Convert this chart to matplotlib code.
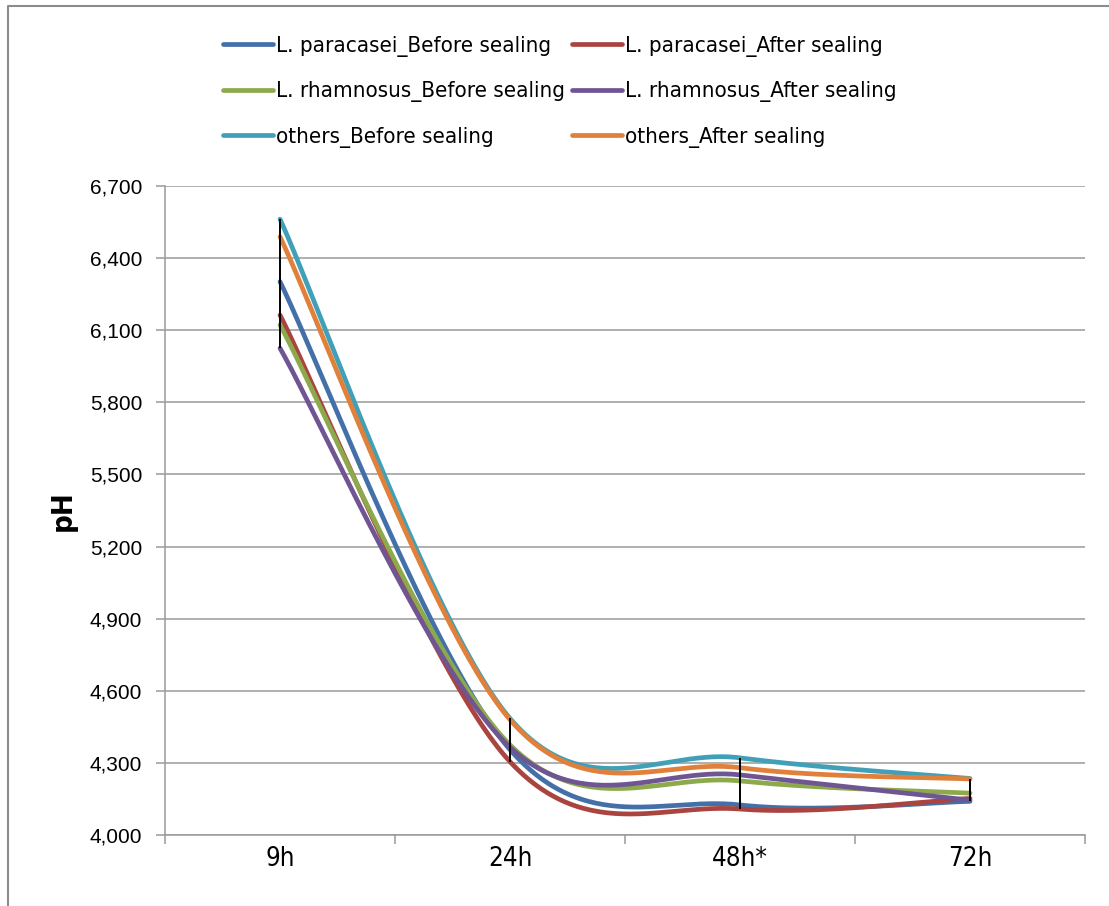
import numpy as np
import matplotlib
matplotlib.use("Agg")
import matplotlib.pyplot as plt
from matplotlib.lines import Line2D

# -----------------------------------------------------------
# Data (pH, axis shows value x1000)
# -----------------------------------------------------------
times = ["9h", "24h", "48h*", "72h"]

lp_before = [6302, 4355, 4125, 4140]
lp_after = [6163, 4305, 4108, 4152]
lr_before = [6122, 4375, 4225, 4174]
lr_after = [6025, 4365, 4250, 4145]
oth_before = [6562, 4485, 4321, 4235]
oth_after = [6489, 4480, 4280, 4233]

series_names = [
    "L. paracasei_Before sealing", "L. paracasei_After sealing",
    "L. rhamnosus_Before sealing", "L. rhamnosus_After sealing",
    "others_Before sealing", "others_After sealing",
]
series_vals = [lp_before, lp_after, lr_before, lr_after, oth_before, oth_after]
colors = ["#4470AA", "#AA4441", "#8CAA4C", "#6F5592", "#41A0B8", "#E0803A"]

yticks = list(range(4000, 6701, 300))

REG = ["Liberation Sans", "DejaVu Sans"]
COND = dict(family="DejaVu Sans", stretch="condensed")


def smooth(xs, ys, n=60):
    # excel-like smoothed line: catmull-rom control points on bezier segments
    P = np.column_stack([xs, ys]).astype(float)
    out = []
    for i in range(len(P) - 1):
        p0 = P[i - 1] if i > 0 else P[i]
        p1 = P[i]
        p2 = P[i + 1]
        p3 = P[i + 2] if i + 2 < len(P) else P[i + 1]
        c1 = p1 + (p2 - p0) / 6.0
        c2 = p2 - (p3 - p1) / 6.0
        t = np.linspace(0, 1, n)[:, None]
        seg = ((1 - t) ** 3) * p1 + 3 * ((1 - t) ** 2) * t * c1 + 3 * (1 - t) * t ** 2 * c2 + t ** 3 * p2
        out.append(seg if i == 0 else seg[1:])
    seg = np.vstack(out)
    return seg[:, 0], seg[:, 1]


W, H = 1109, 906
fig = plt.figure(figsize=(W / 100, H / 100), dpi=100)
ax = fig.add_axes([165 / W, 1 - 835 / H, 920 / W, 649 / H])

x = np.arange(len(times))
handles = []
for name, vals, c in zip(series_names, series_vals, colors):
    sx, sy = smooth(x, vals)
    ln, = ax.plot(sx, sy, color=c, lw=3.4, solid_capstyle="round", label=name, zorder=3)
    handles.append(ln)

# high-low lines
arr = np.array(series_vals)
ax.vlines(x, arr.min(axis=0), arr.max(axis=0), color="black", lw=1.4, zorder=4)

ax.set_xlim(-0.5, len(times) - 0.5)
ax.set_ylim(4000, 6700)
ax.set_yticks(yticks)
ax.set_yticklabels([f"{v:,}" for v in yticks], family=REG, fontsize=15)
ax.set_xticks(np.arange(-0.5, len(times)))
ax.set_xticklabels([])
ax.set_xticks(x, minor=True)
ax.set_xticklabels(times, minor=True, fontsize=18.5, **COND)

grid_c = "#9A9A9A"
ax.yaxis.grid(True, color=grid_c, lw=1.1)
ax.set_axisbelow(True)
for s in ["top", "right"]:
    ax.spines[s].set_visible(False)
for s in ["left", "bottom"]:
    ax.spines[s].set_color(grid_c)
    ax.spines[s].set_linewidth(1.1)
ax.tick_params(axis="y", which="major", direction="out", length=6.5, width=1.1, color=grid_c, pad=10)
ax.tick_params(axis="x", which="major", direction="out", length=6.5, width=1.1, color=grid_c)
ax.tick_params(axis="x", which="minor", length=0, pad=8)

ax.set_ylabel("pH", fontsize=21, fontweight="bold", labelpad=9, **COND)

# legend: before sealing in column 1, after sealing in column 2
order = [0, 2, 4, 1, 3, 5]
leg = fig.legend([handles[i] for i in order], [series_names[i] for i in order],
                 ncol=2, loc="upper left", bbox_to_anchor=(223 / W, 1 - 36 / H),
                 frameon=False, prop={"family": "DejaVu Sans", "stretch": "condensed", "size": 16},
                 handlelength=2.25, handletextpad=0.15, columnspacing=0.3,
                 labelspacing=1.1, borderpad=0, borderaxespad=0)

# chart area border (only top and left visible in crop)
fig.add_artist(Line2D([8 / W, 8 / W, 1.0], [0.0, 1 - 6 / H, 1 - 6 / H],
                      transform=fig.transFigure, color="#8C8C8C", lw=1.5))

fig.savefig("out.png", dpi=100)
